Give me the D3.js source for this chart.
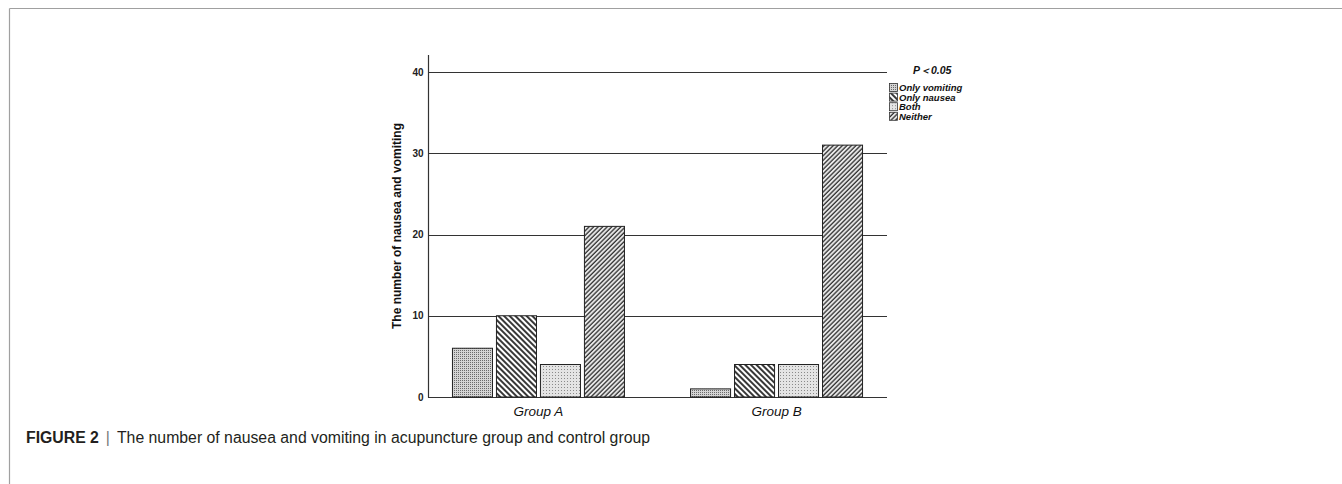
<!DOCTYPE html>
<html><head><meta charset="utf-8">
<script src="https://cdn.jsdelivr.net/npm/d3@7"></script>
<style>
html,body{margin:0;padding:0;background:#fff;}
svg{display:block;}
</style></head>
<body>
<svg id="chart" width="1342" height="484"></svg>
<script>
const groups = ["Group A", "Group B"];
const series = ["Only vomiting", "Only nausea", "Both", "Neither"];
const onlyVomiting = [6, 1];
const onlyNausea = [10, 4];
const both = [4, 4];
const neither = [21, 31];
const yTicks = [0, 10, 20, 30, 40];
const pLabel = "P\uFF1C0.05";
const captionBold = "FIGURE 2";
const captionText = "The number of nausea and vomiting in acupuncture group and control group";
const yTitle = "The number of nausea and vomiting";

const values = [onlyVomiting, onlyNausea, both, neither];

const svg = d3.select("#chart");
const defs = svg.append("defs");

// patterns
const pv = defs.append("pattern").attr("id","p0").attr("patternUnits","userSpaceOnUse").attr("width",2).attr("height",2);
pv.append("rect").attr("width",2).attr("height",2).attr("fill","#d4d4d4");
pv.append("rect").attr("width",1).attr("height",1).attr("fill","#6a6a6a");

const pn = defs.append("pattern").attr("id","p1").attr("patternUnits","userSpaceOnUse").attr("width",4).attr("height",4).attr("patternTransform","rotate(-45)");
pn.append("rect").attr("width",4).attr("height",4).attr("fill","#fff");
pn.append("line").attr("x1",1).attr("y1",0).attr("x2",1).attr("y2",4).attr("stroke","#222").attr("stroke-width",1.8);

const pb = defs.append("pattern").attr("id","p2").attr("patternUnits","userSpaceOnUse").attr("width",3).attr("height",3);
pb.append("rect").attr("width",3).attr("height",3).attr("fill","#e4e4e4");
pb.append("rect").attr("width",1).attr("height",1).attr("fill","#8a8a8a");

const pe = defs.append("pattern").attr("id","p3").attr("patternUnits","userSpaceOnUse").attr("width",3.2).attr("height",3.2).attr("patternTransform","rotate(45)");
pe.append("rect").attr("width",3.2).attr("height",3.2).attr("fill","#f2f2f2");
pe.append("line").attr("x1",1).attr("y1",0).attr("x2",1).attr("y2",3.2).attr("stroke","#333").attr("stroke-width",1.4);

const fills = ["url(#p0)","url(#p1)","url(#p2)","url(#p3)"];

// frame
svg.append("line").attr("x1",9.5).attr("y1",8.5).attr("x2",1342).attr("y2",8.5).attr("stroke","#a0a0a0").attr("stroke-width",1.2);
svg.append("line").attr("x1",9.5).attr("y1",8.5).attr("x2",9.5).attr("y2",484).attr("stroke","#a0a0a0").attr("stroke-width",1.2);

const x0 = 428, x1 = 887;
const y = d3.scaleLinear().domain([0, 40]).range([397, 72]);
const xg = d3.scalePoint().domain(groups).range([x0, x1]).padding(0.464);
const xs = d3.scaleBand().domain(series).range([-86, 86]).paddingInner(0.09);

// gridlines
svg.append("g").selectAll("line").data(yTicks).join("line")
  .attr("x1",x0).attr("x2",x1)
  .attr("y1",d=>Math.round(y(d))+0.5).attr("y2",d=>Math.round(y(d))+0.5)
  .attr("stroke","#333").attr("stroke-width",1.2);

// y axis via d3
const yAxis = d3.axisLeft(y).tickValues(yTicks).tickSize(0).tickPadding(5).tickFormat(d3.format("d"));
const ya = svg.append("g").attr("transform",`translate(${x0+0.5},0)`).call(yAxis);
ya.select(".domain").remove();
ya.selectAll("text").attr("font-family","Liberation Sans, Arial, sans-serif").attr("font-size",10).attr("font-weight","bold").attr("fill","#222");
svg.append("line").attr("x1",x0+0.5).attr("x2",x0+0.5).attr("y1",55).attr("y2",y(0)+0.5).attr("stroke","#333").attr("stroke-width",1.2);

// bars
const gBars = svg.append("g");
groups.forEach((g, gi) => {
  series.forEach((s, si) => {
    const v = values[si][gi];
    gBars.append("rect")
      .attr("x", xg(g) + xs(s))
      .attr("y", y(v))
      .attr("width", xs.bandwidth())
      .attr("height", y(0) - y(v))
      .attr("fill", fills[si])
      .attr("stroke","#222").attr("stroke-width",1);
  });
});

// x labels
svg.append("g").selectAll("text").data(groups).join("text")
  .attr("x", d=>xg(d)).attr("y", 416)
  .attr("text-anchor","middle")
  .attr("font-family","Liberation Sans, Arial, sans-serif")
  .attr("font-size",13.5).attr("font-style","italic").attr("fill","#111")
  .text(d=>d);

// y title
svg.append("text")
  .attr("transform","translate(401,226) rotate(-90)")
  .attr("text-anchor","middle")
  .attr("font-family","Liberation Sans, Arial, sans-serif")
  .attr("font-size",12).attr("font-weight","bold").attr("fill","#111")
  .text(yTitle);

// legend
svg.append("text").attr("x",913).attr("y",74)
  .attr("font-family","Liberation Sans, Arial, sans-serif")
  .attr("font-size",10.5).attr("font-weight","bold").attr("font-style","italic").attr("fill","#111")
  .text(pLabel);
const lg = svg.append("g").selectAll("g").data(series).join("g")
  .attr("transform",(d,i)=>`translate(889,${83 + i*9.6})`);
lg.append("rect").attr("x",0.5).attr("y",0.5).attr("width",8).attr("height",8)
  .attr("fill",(d,i)=>fills[i]).attr("stroke","#333").attr("stroke-width",0.8);
lg.append("text").attr("x",10).attr("y",8)
  .attr("font-family","Liberation Sans, Arial, sans-serif")
  .attr("font-size",9.5).attr("font-weight","bold").attr("font-style","italic").attr("fill","#111")
  .text(d=>d);

// caption
const cap = svg.append("text").attr("x",26).attr("y",443)
  .attr("font-family","Liberation Sans, Arial, sans-serif")
  .attr("font-size",15.8).attr("fill","#231f20");
cap.append("tspan").attr("font-weight","bold").text(captionBold);
cap.append("tspan").attr("dx",7).attr("fill","#777").text("|");
cap.append("tspan").attr("dx",7).text(captionText);
</script>
</body></html>
